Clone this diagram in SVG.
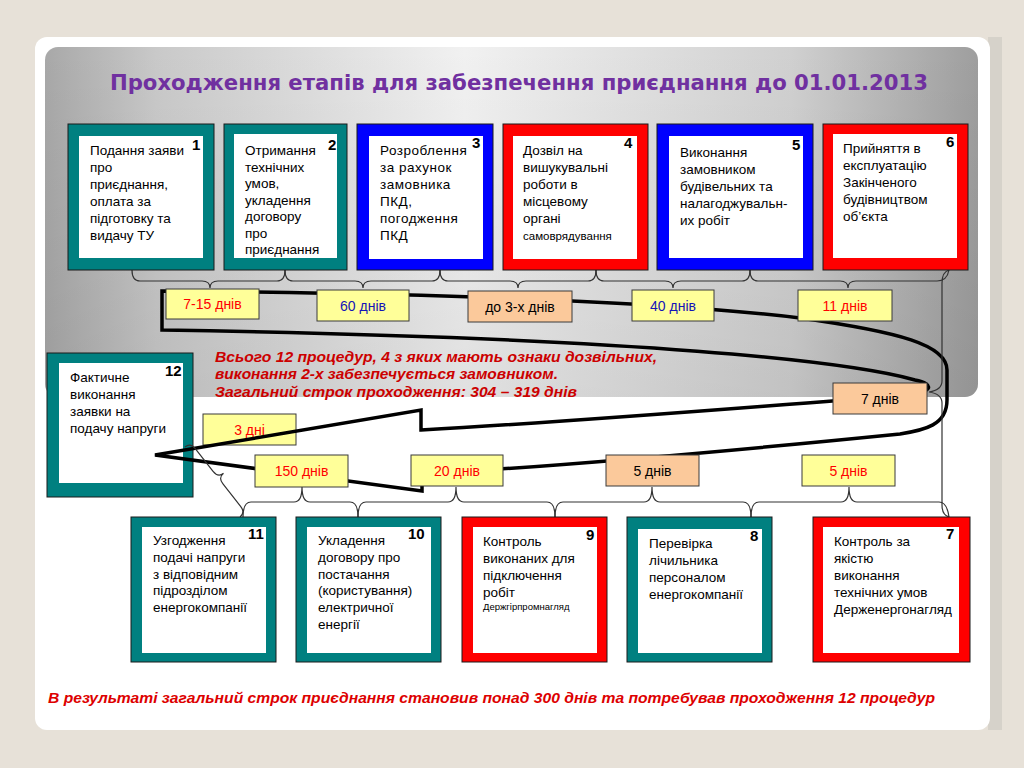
<svg xmlns="http://www.w3.org/2000/svg" width="1024" height="768" viewBox="0 0 1024 768">
<defs>
<linearGradient id="pg" x1="0" y1="0" x2="1" y2="0">
<stop offset="0" stop-color="#a8a8a8"/>
<stop offset="0.12" stop-color="#c9c9c9"/>
<stop offset="0.45" stop-color="#f1f1f1"/>
<stop offset="0.8" stop-color="#d0d0d0"/>
<stop offset="1" stop-color="#9e9e9e"/>
</linearGradient>
<linearGradient id="pv" x1="0" y1="0" x2="0" y2="1">
<stop offset="0" stop-color="#000" stop-opacity="0"/>
<stop offset="1" stop-color="#000" stop-opacity="0.07"/>
</linearGradient>
<style>
.teal{fill:#008080;stroke:#1a1a1a;stroke-width:1}
.red{fill:#ff0000;stroke:#1a1a1a;stroke-width:1}
.blue{fill:#0000ff;stroke:#1a1a1a;stroke-width:1}
.in{fill:#ffffff}
.t{font-family:"Liberation Sans",Arial,sans-serif;font-size:13.5px;fill:#000}
.sm{font-size:11.5px}
.xs{font-size:9.5px}
.num{font-family:"Liberation Sans",Arial,sans-serif;font-size:15px;font-weight:bold;fill:#000}
.yl{fill:#ffff99;stroke:#3a3a3a;stroke-width:1}
.pc{fill:#fbc99b;stroke:#3a3a3a;stroke-width:1}
.lt{font-family:"Liberation Sans",Arial,sans-serif;font-size:14px;text-anchor:middle}
.cr{fill:#ff0000}
.cb{fill:#1414b8}
.ck{fill:#000}
.br{fill:none;stroke:#333;stroke-width:1.2}
.ar{fill:none;stroke:#000;stroke-width:3.5;stroke-linejoin:miter}
.note{font-family:"Liberation Sans",Arial,sans-serif;font-size:14.5px;font-weight:bold;font-style:italic;fill:#cc0000}
</style>
</defs>
<rect x="0" y="0" width="1024" height="768" fill="#e7e1d8"/>
<rect x="988" y="37" width="14" height="693" fill="#d6d2ca"/>
<rect x="35" y="37" width="955" height="693" rx="12" fill="#ffffff"/>
<rect x="45" y="47" width="933" height="350" rx="13" fill="url(#pg)"/>
<rect x="45" y="47" width="933" height="350" rx="13" fill="url(#pv)"/>
<text x="519" y="90" text-anchor="middle" textLength="818" lengthAdjust="spacingAndGlyphs" style="font-family:'DejaVu Sans Condensed','Liberation Sans',sans-serif;font-size:21px;font-weight:bold;fill:#7030a0">Проходження етапів для забезпечення приєднання до 01.01.2013</text>

<g id="n12">
<rect class="teal" x="47" y="353" width="146" height="144"/>
<rect class="in" x="59" y="363" width="124" height="120"/>
<text class="t" x="70" y="382">Фактичне</text>
<text class="t" x="70" y="399">виконання</text>
<text class="t" x="70" y="416">заявки на</text>
<text class="t" x="70" y="433">подачу напруги</text>
<text class="num" x="165" y="376">12</text>
</g>
<g id="l7"><rect class="yl" x="203" y="414" width="93" height="31"/><text class="lt cr" x="249.5" y="434.5">3 дні</text></g>

<g id="connectors">
<path class="ar" d="M162,291 C400,293 650,300 800,318 C900,332 947,345 947,370 L947,400 C947,425 925,430 900,434 C800,444 600,464 422,474 L422,491 L155,455 L421,410 L421,430 C600,420 760,406 900,396 C935,393 935,384 915,380 C850,362 650,338 162,330 Z"/>
<path class="br" d="M132,270 Q132,281 140,281 L202,281 Q210,281 210,288 Q210,281 218,281 L277,281 Q285,281 285,270"/>
<path class="br" d="M285,270 Q285,281 293,281 L355,281 Q363,281 363,288 Q363,281 371,281 L432,281 Q440,281 440,270"/>
<path class="br" d="M440,270 Q440,281 448,281 L510,281 Q518,281 518,288 Q518,281 526,281 L588,281 Q596,281 596,270"/>
<path class="br" d="M596,270 Q596,281 604,281 L665,281 Q673,281 673,288 Q673,281 681,281 L742,281 Q750,281 750,270"/>
<path class="br" d="M750,270 Q750,281 758,281 L840,281 Q848,281 848,288 Q848,281 856,281 L937,281 Q947,281 949,270"/>
<path class="br" d="M949,270 Q942,272 942,283 L942,381 Q942,390 929,392 Q942,394 942,403 L942,505 Q942,515 949,517"/>
<path class="br" d="M243,517 Q243,502 251,502 L294,502 Q302,502 302,487 Q302,502 310,502 L350,502 Q358,502 358,517"/>
<path class="br" d="M358,517 Q358,502 366,502 L448,502 Q456,502 456,487 Q456,502 464,502 L547,502 Q555,502 555,517"/>
<path class="br" d="M555,517 Q555,502 563,502 L644,502 Q652,502 652,487 Q652,502 660,502 L743,502 Q751,502 751,517"/>
<path class="br" d="M751,517 Q751,502 759,502 L841,502 Q849,502 849,487 Q849,502 857,502 L939,502 Q947,502 949,517"/>
<path class="br" transform="translate(185,447) rotate(51.8)" d="M0,0 Q0,-7 8,-7 L36.5,-7 Q44.5,-7 44.5,-14 Q44.5,-7 52.5,-7 L81,-7 Q89,-7 89,0"/>
</g>

<g id="n1">
<rect class="teal" x="68" y="124" width="146" height="146"/>
<rect class="in" x="79" y="136" width="124" height="122"/>
<text class="t" x="90" y="155">Подання заяви</text>
<text class="t" x="90" y="172">про</text>
<text class="t" x="90" y="189">приєднання,</text>
<text class="t" x="90" y="206">оплата за</text>
<text class="t" x="90" y="223">підготовку та</text>
<text class="t" x="90" y="240">видачу ТУ</text>
<text class="num" x="192" y="150">1</text>
</g>
<g id="n2">
<rect class="teal" x="224" y="124" width="123" height="146"/>
<rect class="in" x="234" y="134" width="103" height="124"/>
<text class="t" x="245" y="155">Отримання</text>
<text class="t" x="245" y="171.5">технічних</text>
<text class="t" x="245" y="188">умов,</text>
<text class="t" x="245" y="204.5">укладення</text>
<text class="t" x="245" y="221">договору</text>
<text class="t" x="245" y="237.5">про</text>
<text class="t" x="245" y="254">приєднання</text>
<text class="num" x="328" y="150">2</text>
</g>
<g id="n3">
<rect class="blue" x="357" y="124" width="136" height="146"/>
<rect class="in" x="369" y="136" width="114" height="123"/>
<text class="t" x="380" y="155" letter-spacing="0.5">Розроблення</text>
<text class="t" x="380" y="172" letter-spacing="0.5">за рахунок</text>
<text class="t" x="380" y="189" letter-spacing="0.5">замовника</text>
<text class="t" x="380" y="206" letter-spacing="0.5">ПКД,</text>
<text class="t" x="380" y="223" letter-spacing="0.5">погодження</text>
<text class="t" x="380" y="240" letter-spacing="0.5">ПКД</text>
<text class="num" x="472" y="148">3</text>
</g>
<g id="n4">
<rect class="red" x="503" y="124" width="145" height="146"/>
<rect class="in" x="513" y="136" width="124" height="123"/>
<text class="t" x="523" y="155">Дозвіл на</text>
<text class="t" x="523" y="172">вишукувальні</text>
<text class="t" x="523" y="189">роботи в</text>
<text class="t" x="523" y="206">місцевому</text>
<text class="t" x="523" y="223">органі</text>
<text class="t sm" x="523" y="240">самоврядування</text>
<text class="num" x="624" y="148">4</text>
</g>
<g id="n5">
<rect class="blue" x="657" y="124" width="156" height="146"/>
<rect class="in" x="669" y="136" width="134" height="122"/>
<text class="t" x="680" y="157">Виконання</text>
<text class="t" x="680" y="174">замовником</text>
<text class="t" x="680" y="191">будівельних та</text>
<text class="t" x="680" y="208">налагоджувальн-</text>
<text class="t" x="680" y="225">их робіт</text>
<text class="num" x="792" y="150">5</text>
</g>
<g id="n6">
<rect class="red" x="823" y="124" width="145" height="146"/>
<rect class="in" x="833" y="134" width="124" height="124"/>
<text class="t" x="843" y="153">Прийняття в</text>
<text class="t" x="843" y="170">експлуатацію</text>
<text class="t" x="843" y="187">Закінченого</text>
<text class="t" x="843" y="204">будівництвом</text>
<text class="t" x="843" y="221">об’єкта</text>
<text class="num" x="946" y="147">6</text>
</g>

<g id="n11">
<rect class="teal" x="131" y="517" width="145" height="145"/>
<rect class="in" x="142" y="527" width="124" height="126"/>
<text class="t" x="153" y="545">Узгодження</text>
<text class="t" x="153" y="562">подачі напруги</text>
<text class="t" x="153" y="578.5">з відповідним</text>
<text class="t" x="153" y="595">підрозділом</text>
<text class="t" x="153" y="612">енергокомпанії</text>
<text class="num" x="248" y="539">11</text>
</g>
<g id="n10">
<rect class="teal" x="296" y="517" width="145" height="145"/>
<rect class="in" x="307" y="527" width="124" height="126"/>
<text class="t" x="318" y="545">Укладення</text>
<text class="t" x="318" y="562">договору про</text>
<text class="t" x="318" y="578.5">постачання</text>
<text class="t" x="318" y="595">(користування)</text>
<text class="t" x="318" y="612">електричної</text>
<text class="t" x="318" y="629">енергії</text>
<text class="num" x="408" y="539">10</text>
</g>
<g id="n9">
<rect class="red" x="462" y="517" width="145" height="145"/>
<rect class="in" x="473" y="527" width="124" height="126"/>
<text class="t" x="483" y="546">Контроль</text>
<text class="t" x="483" y="563">виконаних для</text>
<text class="t" x="483" y="580">підключення</text>
<text class="t" x="483" y="597">робіт</text>
<text class="t xs" x="483" y="610">Держгірпромнагляд</text>
<text class="num" x="586" y="540">9</text>
</g>
<g id="n8">
<rect class="teal" x="627" y="517" width="145" height="145"/>
<rect class="in" x="638" y="529" width="124" height="124"/>
<text class="t" x="649" y="548">Перевірка</text>
<text class="t" x="649" y="565">лічильника</text>
<text class="t" x="649" y="582">персоналом</text>
<text class="t" x="649" y="599">енергокомпанії</text>
<text class="num" x="750" y="541">8</text>
</g>
<g id="n7">
<rect class="red" x="813" y="517" width="157" height="145"/>
<rect class="in" x="823" y="527" width="136" height="126"/>
<text class="t" x="834" y="546">Контроль за</text>
<text class="t" x="834" y="563">якістю</text>
<text class="t" x="834" y="580">виконання</text>
<text class="t" x="834" y="597">технічних умов</text>
<text class="t" x="834" y="614">Держенергонагляд</text>
<text class="num" x="946" y="539">7</text>
</g>

<g id="l1"><rect class="yl" x="166" y="289" width="93" height="30"/><text class="lt cr" x="212.5" y="309">7-15 днів</text></g>
<g id="l2"><rect class="yl" x="317" y="290" width="92" height="31"/><text class="lt cb" x="363" y="310.5">60 днів</text></g>
<g id="l3"><rect class="pc" x="468" y="291" width="104" height="31"/><text class="lt ck" x="520" y="311.5">до 3-х днів</text></g>
<g id="l4"><rect class="yl" x="632" y="290" width="82" height="31"/><text class="lt cb" x="673" y="310.5">40 днів</text></g>
<g id="l5"><rect class="yl" x="798" y="290" width="94" height="31"/><text class="lt cr" x="845" y="310.5">11 днів</text></g>
<g id="l6"><rect class="pc" x="833" y="383" width="94" height="31"/><text class="lt ck" x="880" y="403.5">7 днів</text></g>
<g id="l8"><rect class="yl" x="255" y="455" width="93" height="32"/><text class="lt cr" x="301.5" y="476">150 днів</text></g>
<g id="l9"><rect class="yl" x="411" y="455" width="92" height="31"/><text class="lt cr" x="457" y="475.5">20 днів</text></g>
<g id="l10"><rect class="pc" x="606" y="455" width="93" height="31"/><text class="lt ck" x="652.5" y="475.5">5 днів</text></g>
<g id="l11"><rect class="yl" x="802" y="455" width="93" height="31"/><text class="lt cr" x="848.5" y="475.5">5 днів</text></g>

<g id="summary">
<text class="note" x="215" y="362" textLength="442" lengthAdjust="spacingAndGlyphs">Всього 12 процедур, 4 з яких мають ознаки дозвільних,</text>
<text class="note" x="215" y="379" textLength="343" lengthAdjust="spacingAndGlyphs">виконання 2-х забезпечується замовником.</text>
<text class="note" x="215" y="397" textLength="362" lengthAdjust="spacingAndGlyphs">Загальний строк проходження: 304 – 319 днів</text>
</g>
<text class="note" x="48" y="703" textLength="887" lengthAdjust="spacingAndGlyphs" style="font-size:14px;fill:#dd0000">В результаті загальний строк приєднання становив понад 300 днів та потребував проходження 12 процедур</text>
</svg>
